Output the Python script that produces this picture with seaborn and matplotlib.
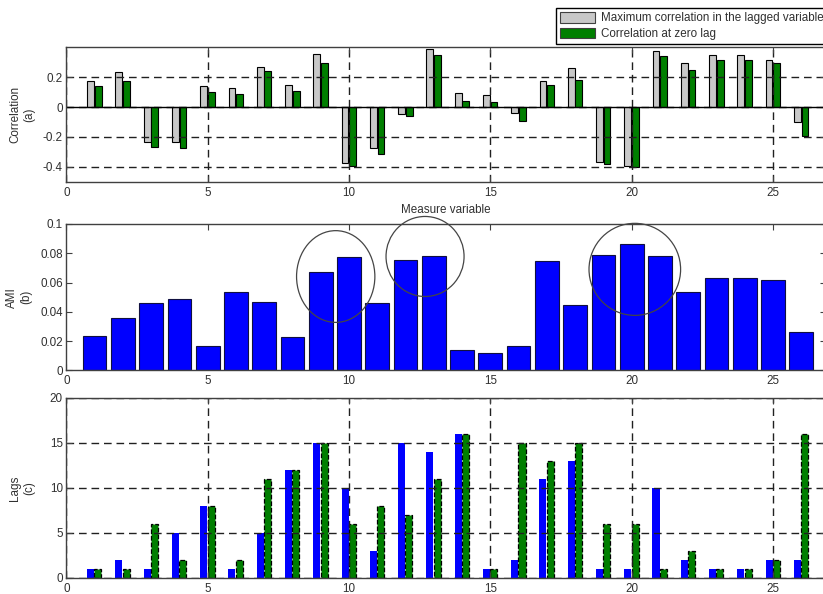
import numpy as np
import pandas as pd
import matplotlib
matplotlib.use("Agg")
import matplotlib.pyplot as plt
from matplotlib.patches import Ellipse, Patch
import seaborn as sns

# Measured variables 1..26
measures = np.arange(1, 27)

# (a) correlation with the target variable
corr_max_lagged = [0.171, 0.233, -0.231, -0.231, 0.140, 0.127, 0.271, 0.147, 0.353,
                   -0.373, -0.276, -0.044, 0.391, 0.096, 0.078, -0.040, 0.171, 0.264,
                   -0.369, -0.393, 0.376, 0.296, 0.347, 0.347, 0.316, -0.100]
corr_zero_lag = [0.140, 0.176, -0.269, -0.276, 0.102, 0.089, 0.240, 0.109, 0.296,
                 -0.396, -0.313, -0.058, 0.347, 0.042, 0.036, -0.093, 0.147, 0.184,
                 -0.382, -0.404, 0.344, 0.247, 0.316, 0.316, 0.296, -0.196]

# (b) average mutual information
ami = [0.0237, 0.0358, 0.0460, 0.0485, 0.0166, 0.0538, 0.0467, 0.0226, 0.0672,
       0.0772, 0.0460, 0.0754, 0.0779, 0.0139, 0.0121, 0.0166, 0.0747, 0.0446,
       0.0786, 0.0863, 0.0779, 0.0538, 0.0633, 0.0633, 0.0620, 0.0262]

# (c) selected lags
lags_ami = [1, 2, 1, 5, 8, 1, 5, 12, 15, 10, 3, 15, 14, 16, 1, 2, 11, 13, 1, 1, 10, 2, 1, 1, 2, 2]
lags_corr = [1, 1, 6, 2, 8, 2, 11, 12, 15, 6, 8, 7, 11, 16, 1, 15, 13, 15, 6, 6, 1, 3, 1, 1, 2, 16]

legend_labels = ["Maximum correlation in the lagged variable", "Correlation at zero lag"]

GREY = "#c8c8c8"
GREEN = "#007f00"
BLUE = "#0000ff"
TXT = "#303030"
FS = 8.4

plt.rcParams["font.family"] = ["Liberation Sans", "DejaVu Sans"]

W, H = 823, 594
fig = plt.figure(figsize=(W / 100, H / 100), dpi=100)


def add_axes_px(left, top, right, bottom):
    return fig.add_axes([left / W, 1 - bottom / H, (right - left) / W, (bottom - top) / H])


ax_a = add_axes_px(66.3, 47.3, 826, 181.7)
ax_b = add_axes_px(66.3, 224, 826, 370.3)
ax_c = add_axes_px(66.3, 397.7, 826, 578)
XMAX = (826 - 66.3) / 28.27
dash = (0, (5.5, 3.5))

# ---- (a) correlations
sns.barplot(x=measures - 0.14, y=corr_max_lagged, native_scale=True, width=0.24,
            color=GREY, saturation=1, edgecolor="black", linewidth=0.8,
            errorbar=None, ax=ax_a, zorder=2)
sns.barplot(x=measures + 0.13, y=corr_zero_lag, native_scale=True, width=0.24,
            color=GREEN, saturation=1, edgecolor="black", linewidth=0.8,
            errorbar=None, ax=ax_a, zorder=2)
ax_a.axhline(0, color="black", lw=1, zorder=4)
ax_a.set_ylim(-0.5, 0.4)
ax_a.set_yticks([-0.4, -0.2, 0, 0.2])
ax_a.set_yticklabels(["-0.4", "-0.2", "0", "0.2"])
ax_a.set_xlabel("Measure variable", fontsize=FS, color=TXT)
ax_a.set_ylabel("Correlation\n(a)", fontsize=FS, color=TXT)
ax_a.grid(True, linestyle=dash, color="#202020", linewidth=1)
ax_a.set_axisbelow(False)

# ---- (b) AMI
sns.barplot(x=measures, y=ami, native_scale=True, width=0.84, color=BLUE,
            saturation=1, edgecolor="#101040", linewidth=0.8, errorbar=None,
            ax=ax_b, zorder=2)
ax_b.set_ylim(0, 0.1)
ax_b.set_yticks([0, 0.02, 0.04, 0.06, 0.08, 0.1])
ax_b.set_yticklabels(["0", "0.02", "0.04", "0.06", "0.08", "0.1"])
ax_b.set_ylabel("AMI\n(b)", fontsize=FS, color=TXT)
ax_b.set_xlabel("")
for (cx, cy, w, h) in [(9.53, 0.0641, 2.77, 0.0627),
                       (12.69, 0.0778, 2.76, 0.0547),
                       (20.11, 0.0690, 3.24, 0.0629)]:
    ax_b.add_patch(Ellipse((cx, cy), w, h, fill=False, edgecolor="#454545",
                           lw=0.9, clip_on=False, zorder=6))

# ---- (c) lags
sns.barplot(x=measures - 0.14, y=lags_ami, native_scale=True, width=0.25, color=BLUE,
            saturation=1, linewidth=0, errorbar=None, ax=ax_c, zorder=2)
sns.barplot(x=measures + 0.12, y=lags_corr, native_scale=True, width=0.25, color=GREEN,
            saturation=1, edgecolor="black", linewidth=0.9, linestyle="--",
            errorbar=None, ax=ax_c, zorder=2)
ax_c.set_ylim(0, 20)
ax_c.set_yticks([0, 5, 10, 15, 20])
ax_c.set_ylabel("Lags\n(c)", fontsize=FS, color=TXT)
ax_c.set_xlabel("")
ax_c.grid(True, linestyle=dash, color="#202020", linewidth=1)
ax_c.set_axisbelow(False)

for ax in (ax_a, ax_b, ax_c):
    ax.set_xlim(0, XMAX)
    ax.set_xticks([0, 5, 10, 15, 20, 25])
    ax.set_xticklabels(["0", "5", "10", "15", "20", "25"])
    ax.tick_params(direction="in", length=4, width=0.8, top=True, right=True,
                   labelsize=FS, labelcolor=TXT, color="#404040")
    ax.tick_params(axis="y", pad=2.5)
    for sp in ax.spines.values():
        sp.set_color("#404040")
        sp.set_linewidth(1)
        sp.set_zorder(5)

ax_a.yaxis.set_label_coords(-0.041, 0.5)
ax_b.yaxis.set_label_coords(-0.045, 0.5)
ax_c.yaxis.set_label_coords(-0.041, 0.5)

handles = [Patch(facecolor=GREY, edgecolor="#404040", lw=0.8),
           Patch(facecolor=GREEN, edgecolor="#404040", lw=0.8)]
leg = fig.legend(handles, legend_labels, loc="upper left",
                 bbox_to_anchor=(555.7 / W, 1 - 8 / H), borderaxespad=0,
                 fontsize=FS, frameon=True, fancybox=False, framealpha=1,
                 edgecolor="black", handlelength=3.0, handleheight=1.0,
                 handletextpad=0.5, labelspacing=0.3, borderpad=0.35)
leg.get_frame().set_linewidth(1)
for t in leg.get_texts():
    t.set_color(TXT)

fig.savefig("out.png", dpi=100)
